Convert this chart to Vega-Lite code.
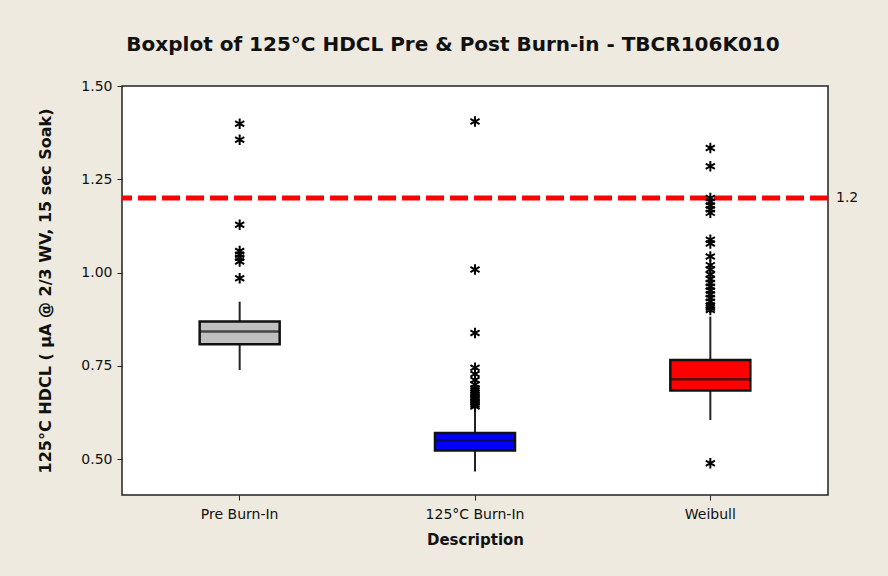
{
  "$schema": "https://vega.github.io/schema/vega-lite/v6.json",
  "width": 706,
  "height": 409,
  "autosize": {"type": "none"},
  "padding": {"left": 122, "top": 86, "right": 60, "bottom": 81},
  "background": "#EEEADF",
  "title": {
    "text": "Boxplot of 125°C HDCL Pre & Post Burn-in - TBCR106K010",
    "font": "DejaVu Sans",
    "fontSize": 20,
    "fontWeight": "bold",
    "color": "#111111",
    "anchor": "middle",
    "offset": 24,
    "dx": -22
  },
  "config": {
    "view": {"stroke": "#222222", "strokeWidth": 1.5, "fill": "white"},
    "axis": {"labelFont": "DejaVu Sans", "titleFont": "DejaVu Sans", "labelColor": "#111111", "titleColor": "#111111", "domain": false, "grid": false, "tickColor": "#222222", "tickSize": 5}
  },
  "datasets": {
    "boxes": [
      {"group": "Pre Burn-In", "lower": 0.739, "q1": 0.808, "median": 0.842, "q3": 0.869, "upper": 0.922},
      {"group": "125°C Burn-In", "lower": 0.467, "q1": 0.523, "median": 0.550, "q3": 0.570, "upper": 0.632},
      {"group": "Weibull", "lower": 0.605, "q1": 0.684, "median": 0.714, "q3": 0.766, "upper": 0.882}
    ],
    "reference": [
      {"ref": 1.2, "label": "1.2"}
    ],
    "outliers": [
      {"group": "Pre Burn-In", "value": 1.399},
      {"group": "Pre Burn-In", "value": 1.356},
      {"group": "Pre Burn-In", "value": 1.128},
      {"group": "Pre Burn-In", "value": 1.058},
      {"group": "Pre Burn-In", "value": 1.048},
      {"group": "Pre Burn-In", "value": 1.040},
      {"group": "Pre Burn-In", "value": 1.030},
      {"group": "Pre Burn-In", "value": 0.985},
      {"group": "125°C Burn-In", "value": 1.405},
      {"group": "125°C Burn-In", "value": 1.008},
      {"group": "125°C Burn-In", "value": 0.838},
      {"group": "125°C Burn-In", "value": 0.745},
      {"group": "125°C Burn-In", "value": 0.728},
      {"group": "125°C Burn-In", "value": 0.712},
      {"group": "125°C Burn-In", "value": 0.700},
      {"group": "125°C Burn-In", "value": 0.690},
      {"group": "125°C Burn-In", "value": 0.684},
      {"group": "125°C Burn-In", "value": 0.678},
      {"group": "125°C Burn-In", "value": 0.672},
      {"group": "125°C Burn-In", "value": 0.666},
      {"group": "125°C Burn-In", "value": 0.661},
      {"group": "125°C Burn-In", "value": 0.656},
      {"group": "125°C Burn-In", "value": 0.651},
      {"group": "125°C Burn-In", "value": 0.646},
      {"group": "125°C Burn-In", "value": 0.641},
      {"group": "Weibull", "value": 1.334},
      {"group": "Weibull", "value": 1.285},
      {"group": "Weibull", "value": 1.200},
      {"group": "Weibull", "value": 1.190},
      {"group": "Weibull", "value": 1.180},
      {"group": "Weibull", "value": 1.170},
      {"group": "Weibull", "value": 1.160},
      {"group": "Weibull", "value": 1.088},
      {"group": "Weibull", "value": 1.078},
      {"group": "Weibull", "value": 1.043},
      {"group": "Weibull", "value": 1.020},
      {"group": "Weibull", "value": 1.008},
      {"group": "Weibull", "value": 0.995},
      {"group": "Weibull", "value": 0.983},
      {"group": "Weibull", "value": 0.972},
      {"group": "Weibull", "value": 0.962},
      {"group": "Weibull", "value": 0.952},
      {"group": "Weibull", "value": 0.942},
      {"group": "Weibull", "value": 0.932},
      {"group": "Weibull", "value": 0.922},
      {"group": "Weibull", "value": 0.912},
      {"group": "Weibull", "value": 0.906},
      {"group": "Weibull", "value": 0.900},
      {"group": "Weibull", "value": 0.489}
    ]
  },
  "layer": [
    {
      "data": {"name": "boxes"},
      "mark": {"type": "rule", "color": "#222222", "strokeWidth": 2},
      "encoding": {
        "x": {
          "field": "group", "type": "nominal",
          "sort": ["Pre Burn-In", "125°C Burn-In", "Weibull"],
          "scale": {"paddingInner": 0, "paddingOuter": 0},
          "axis": {"title": "Description", "labelAngle": 0, "labelFontSize": 14, "titleFontSize": 15, "titleFontWeight": "bold", "labelPadding": 7, "titlePadding": 11}
        },
        "y": {
          "field": "lower", "type": "quantitative",
          "scale": {"domain": [0.404, 1.5], "nice": false, "zero": false},
          "axis": {"title": "125°C HDCL ( µA @ 2/3 WV, 15 sec Soak)", "values": [0.5, 0.75, 1.0, 1.25, 1.5], "format": ".2f", "labelFontSize": 14, "titleFontSize": 16, "titleFontWeight": "bold", "labelPadding": 5, "titlePadding": 27}
        },
        "y2": {"field": "upper"}
      }
    },
    {
      "data": {"name": "boxes"},
      "mark": {"type": "bar", "size": 80, "stroke": "#111111", "strokeWidth": 2.5},
      "encoding": {
        "x": {"field": "group", "type": "nominal", "sort": ["Pre Burn-In", "125°C Burn-In", "Weibull"]},
        "y": {"field": "q1", "type": "quantitative"},
        "y2": {"field": "q3"},
        "color": {
          "field": "group", "type": "nominal",
          "scale": {"domain": ["Pre Burn-In", "125°C Burn-In", "Weibull"], "range": ["#C0C0C0", "#0000FF", "#FF0000"]},
          "legend": null
        }
      }
    },
    {
      "data": {"name": "boxes"},
      "mark": {"type": "tick", "size": 80, "thickness": 2.5, "color": "#111111"},
      "encoding": {
        "x": {"field": "group", "type": "nominal", "sort": ["Pre Burn-In", "125°C Burn-In", "Weibull"]},
        "y": {"field": "median", "type": "quantitative"}
      }
    },
    {
      "data": {"name": "reference"},
      "mark": {"type": "rule", "color": "#FF0000", "strokeWidth": 5, "strokeDash": [18, 6]},
      "encoding": {"y": {"field": "ref", "type": "quantitative"}}
    },
    {
      "data": {"name": "outliers"},
      "mark": {"type": "point", "filled": false, "shape": "M0,-1L0,1M-0.87,-0.5L0.87,0.5M-0.87,0.5L0.87,-0.5", "size": 110, "stroke": "#000000", "strokeWidth": 2, "opacity": 1},
      "encoding": {
        "x": {"field": "group", "type": "nominal", "sort": ["Pre Burn-In", "125°C Burn-In", "Weibull"]},
        "y": {"field": "value", "type": "quantitative"}
      }
    },
    {
      "data": {"name": "reference"},
      "mark": {"type": "text", "align": "left", "baseline": "middle", "dx": 8, "font": "DejaVu Sans", "fontSize": 14, "color": "#111111"},
      "encoding": {"y": {"field": "ref", "type": "quantitative"}, "x": {"value": "width"}, "text": {"field": "label"}}
    }
  ]
}
